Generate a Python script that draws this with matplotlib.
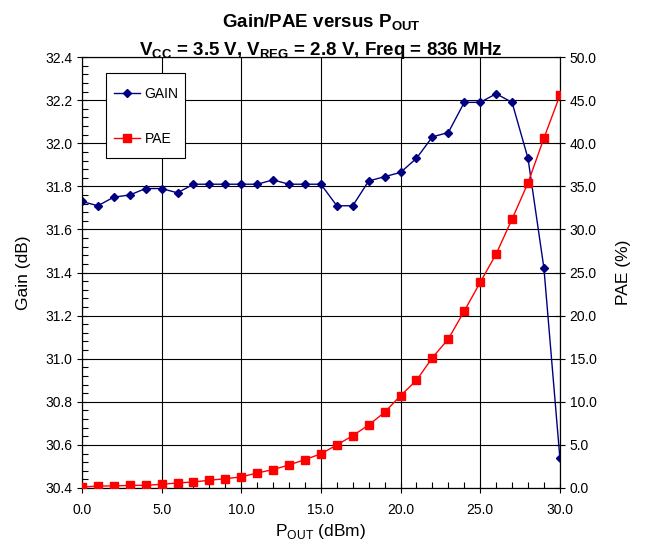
import numpy as np
import matplotlib
matplotlib.use("Agg")
import matplotlib.pyplot as plt
from matplotlib.ticker import MultipleLocator, FormatStrFormatter
from matplotlib.patches import Rectangle

plt.rcParams['font.family'] = ['Liberation Sans', 'DejaVu Sans']
plt.rcParams['mathtext.fontset'] = 'custom'
plt.rcParams['mathtext.rm'] = 'Liberation Sans'
plt.rcParams['mathtext.bf'] = 'Liberation Sans:bold'

# data
pout = list(range(0, 31))
gain = [31.73, 31.71, 31.75, 31.76, 31.79, 31.79, 31.77, 31.81, 31.81, 31.81,
        31.81, 31.81, 31.83, 31.81, 31.81, 31.81, 31.71, 31.71, 31.825, 31.845,
        31.865, 31.93, 32.03, 32.05, 32.19, 32.19, 32.23, 32.19, 31.93, 31.42,
        30.54]
pae = [0.10, 0.23, 0.23, 0.30, 0.30, 0.43, 0.58, 0.70, 0.89, 1.08,
       1.28, 1.74, 2.13, 2.67, 3.29, 3.96, 4.99, 6.07, 7.31, 8.78,
       10.71, 12.49, 15.12, 17.29, 20.53, 23.86, 27.15, 31.2, 35.4, 40.6,
       45.55]

fig = plt.figure(figsize=(6.45, 5.44), dpi=100)
ax = fig.add_axes([0.127, 0.103, 0.741, 0.792])
ax2 = ax.twinx()

l1, = ax.plot(pout, gain, color="#000080", lw=1, marker="D", ms=4.5,
              label="GAIN", zorder=3)
l2, = ax2.plot(pout, pae, color="#ff0000", lw=1, marker="s", ms=5.5,
               label="PAE", zorder=3)

ax.set_xlim(0, 30)
ax.set_ylim(30.4, 32.4)
ax2.set_ylim(0, 50)

ax.xaxis.set_major_locator(MultipleLocator(5))
ax.xaxis.set_minor_locator(MultipleLocator(1))
ax.xaxis.set_major_formatter(FormatStrFormatter("%.1f"))
ax.yaxis.set_major_locator(MultipleLocator(0.2))
ax.yaxis.set_minor_locator(MultipleLocator(0.04))
ax.yaxis.set_major_formatter(FormatStrFormatter("%.1f"))
ax2.yaxis.set_major_locator(MultipleLocator(5))
ax2.yaxis.set_major_formatter(FormatStrFormatter("%.1f"))

ax.grid(True, which="major", color="black", lw=0.8)
ax.tick_params(which="major", direction="inout", length=7, labelsize=10, width=0.8)
ax.tick_params(which="minor", direction="in", length=4, width=0.8)
ax2.tick_params(which="major", direction="inout", length=7, labelsize=10, width=0.8)
ax.tick_params(axis="x", pad=7)

for a in (ax, ax2):
    for s in a.spines.values():
        s.set_linewidth(0.8)

ax.set_xlabel(r"P$_\mathrm{OUT}$ (dBm)", fontsize=12.5, labelpad=4)
ax.set_ylabel("Gain (dB)", fontsize=12.5, labelpad=10)
ax2.set_ylabel("PAE (%)", fontsize=12.5, rotation=90, labelpad=14)

fig.text(0.498, 0.950, r"Gain/PAE versus P$_\mathbf{OUT}$", ha="center",
         va="baseline", fontsize=13.5, fontweight="bold")
fig.text(0.498, 0.899, r"V$_\mathbf{CC}$ = 3.5 V, V$_\mathbf{REG}$ = 2.8 V, Freq = 836 MHz",
         ha="center", va="baseline", fontsize=13.5, fontweight="bold")

# legend box
ax2.add_patch(Rectangle((0.050, 0.766), 0.165, 0.197, transform=ax2.transAxes,
                        facecolor="white", edgecolor="black", lw=0.8, zorder=4))
leg = ax2.legend(handles=[l1, l2], loc="upper left",
                 bbox_to_anchor=(0.067, 0.930), fontsize=10, frameon=False,
                 labelspacing=2.2, handlelength=1.9, borderpad=0,
                 borderaxespad=0, handletextpad=0.3)
leg.set_zorder(5)

fig.savefig("out.png", dpi=100)
